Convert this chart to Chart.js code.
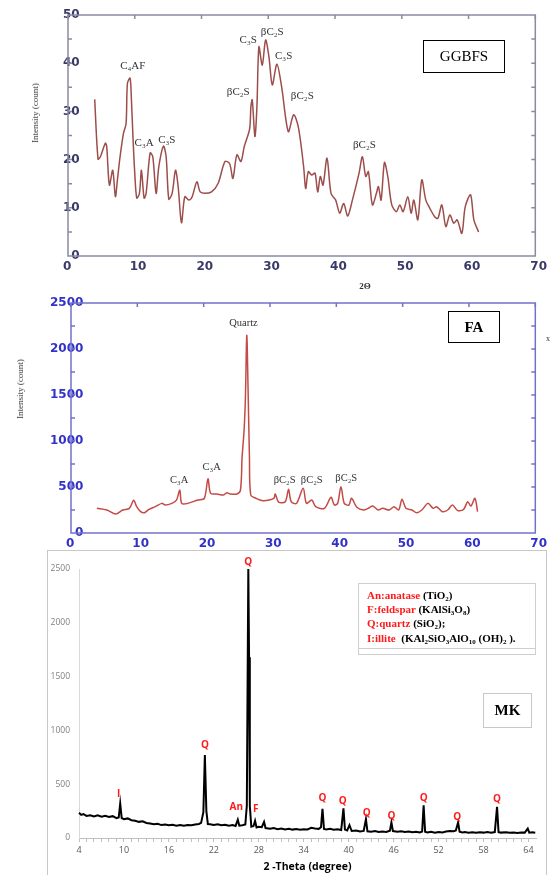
<!DOCTYPE html>
<html lang="en">
<head>
<meta charset="UTF-8" />
<title>XRD patterns: GGBFS, FA, MK</title>
<script src="https://cdn.jsdelivr.net/npm/chart.js@4.4.1/dist/chart.umd.min.js"></script>
<style>
*,*::before,*::after{box-sizing:border-box}
html,body{margin:0;padding:0;background:#fff}
body{width:556px;height:875px;position:relative;overflow:hidden;font-family:"Liberation Serif",serif}
.pane{position:absolute}
.pane canvas{width:100%!important;height:100%!important;display:block}
.tag{position:absolute;border:1px solid #000;display:flex;align-items:center;justify-content:center;color:#000}
.ytitle{position:absolute;transform:translate(-50%,-50%) rotate(-90deg);white-space:nowrap;font-size:9px;color:#333}
.mkframe{position:absolute;left:47px;top:550px;width:500px;height:340px;border:1px solid #c8c8c8}
.legend{position:absolute;left:358px;top:583px;width:178px;height:72px;border:1.5px solid #cfcfcf;
  font:bold 11px "Liberation Serif",serif;line-height:14.2px;padding:4px 0 0 8px;color:#000;white-space:nowrap}
.legend .r{color:#ff1a1a}
.legend sub{font-size:7px;vertical-align:-2px;line-height:0}
.legend .rule{position:absolute;left:0;right:0;top:64px;border-top:1.5px solid #cfcfcf}
</style>
</head>
<body>

<!-- GGBFS -->
<div class="pane" style="left:0;top:0;width:556px;height:300px"><canvas id="ggbfs"></canvas></div>
<div class="ytitle" style="left:35px;top:113px">Intensity (count)</div>
<div class="tag" style="left:423px;top:40px;width:82px;height:33px;font-size:15px">GGBFS</div>

<!-- FA -->
<div class="pane" style="left:0;top:295px;width:556px;height:260px"><canvas id="fa"></canvas></div>
<div class="ytitle" style="left:20px;top:389px">Intensity (count)</div>
<div class="tag" style="left:448px;top:311px;width:52px;height:32px;font-size:15px;font-weight:bold">FA</div>
<div style="position:absolute;left:546px;top:334px;font-size:8px;color:#333">x</div>

<!-- MK -->
<div class="mkframe"></div>
<div class="pane" style="left:48px;top:551px;width:498px;height:324px"><canvas id="mk"></canvas></div>
<div class="legend">
  <div><span class="r">An:anatase</span> (TiO<sub>2</sub>)</div>
  <div><span class="r">F:feldspar</span> (KAlSi<sub>3</sub>O<sub>8</sub>)</div>
  <div><span class="r">Q:quartz</span> (SiO<sub>2</sub>);</div>
  <div><span class="r">I:illite</span>&nbsp; (KAl<sub>2</sub>SiO<sub>3</sub>AlO<sub>10</sub> (OH)<sub>2</sub> ).</div>
  <div class="rule"></div>
</div>
<div class="tag" style="left:483px;top:693px;width:49px;height:35px;font-size:15px;font-weight:bold;border-color:#c8c8c8">MK</div>

<script>
/* ── data ───────────────────────────────────────────────────────── */
const ggbfsTheta=[4.0,4.5,4.85,5.6,5.8,6.2,6.7,7.1,7.4,7.8,8.3,8.7,8.9,9.3,9.5,9.75,10.0,10.3,10.7,11.0,11.4,11.7,12.3,12.7,13.2,13.6,14.3,14.7,15.1,15.6,16.1,16.5,17.0,17.5,18.1,18.6,19.3,19.8,20.5,21.5,22.5,23.5,24.2,24.7,25.3,25.9,26.4,27.2,27.4,27.6,28.0,28.3,28.6,29.1,29.6,30.1,30.6,31.3,32.0,33.0,33.8,34.5,35.3,35.6,36.0,36.5,37.0,37.4,37.8,38.2,38.8,39.4,40.1,40.7,41.3,41.9,42.6,43.6,44.1,44.6,45.0,45.6,46.2,46.5,46.9,47.4,47.9,48.5,49.2,49.7,50.2,50.9,51.4,51.8,52.4,53.0,53.6,54.2,54.9,55.4,56.0,56.6,57.2,57.8,58.3,59.0,59.5,60.3,60.8,61.5];
const ggbfsCount=[32.5,20.1,20.6,23.4,22.7,14.7,17.8,12.3,15.8,20.6,25.4,27.5,35.8,36.9,32.4,24.1,17.2,12.0,13.0,17.8,12.0,13.0,21.4,20.6,13.0,18.5,22.8,20.6,11.8,13.0,17.8,14.4,6.9,12.3,11.6,12.3,15.4,13.3,13.0,13.3,15.1,19.6,19.2,16.1,21.0,19.6,22.7,26.3,31.0,32.4,24.8,31.0,43.4,39.6,44.8,41.3,35.5,39.8,35.1,25.8,29.3,26.8,18.5,14.0,17.5,16.8,17.2,13.3,16.5,14.7,20.3,13.0,11.6,8.9,10.9,8.3,11.6,17.2,20.6,16.5,17.5,10.6,13.0,14.4,11.6,19.4,16.5,10.6,9.2,10.6,9.2,12.3,8.9,11.6,7.5,15.8,11.6,9.9,8.2,7.8,10.6,6.1,8.5,6.8,7.5,4.7,10.2,12.7,7.5,5.0];
const ggbfsPeakNames=['C₄AF','C₃A','C₃S','βC₂S','C₃S','βC₂S','C₃S','βC₂S','βC₂S'];
const ggbfsPeakTheta=[9.7,11.4,14.8,25.5,27.0,30.6,32.3,35.1,44.4];
const ggbfsPeakY=[39.4,23.5,24.1,34.1,44.7,46.5,41.5,33.2,23.0];

const faTheta=[3.9,5.4,6.75,7.8,8.8,9.45,9.9,10.5,11.1,11.75,12.7,13.7,14.2,15.2,15.9,16.4,16.7,17.6,19.1,20.1,20.65,21.05,22.0,23.0,23.5,24.0,25.0,25.55,25.8,26.1,26.3,26.5,26.7,26.9,27.1,27.9,28.9,29.9,30.6,30.8,31.3,32.3,32.8,33.2,34.0,35.0,35.5,36.3,36.9,38.2,39.2,39.7,40.2,40.7,41.2,41.9,42.3,43.1,44.1,44.8,45.5,46.3,47.0,48.0,48.7,49.4,49.9,50.5,51.4,52.1,52.9,53.8,54.6,55.1,56.0,56.8,57.5,58.3,59.2,59.8,60.3,60.9,61.3];
const faCount=[268,250,206,250,268,355,286,232,221,257,286,322,304,322,358,465,322,322,358,377,590,431,424,413,438,424,424,467,830,1120,1480,2150,1554,830,413,377,351,358,377,424,335,340,475,340,322,486,322,358,286,268,388,304,322,503,322,304,377,279,250,268,293,250,268,250,286,250,366,268,250,221,250,322,268,286,232,250,304,243,257,340,293,377,232];
const faPeakNames=['Quartz','C₃A','C₃A','βC₂S','βC₂S','βC₂S'];
const faPeakTheta=[26.0,16.3,21.2,32.2,36.3,41.5];
const faPeakY=[2283,576,717,576,576,598];

const mkTheta=[4.0,4.3,4.6,5.0,5.5,6.0,6.5,7.0,7.5,8.0,8.5,9.0,9.3,9.5,9.7,10.0,10.5,11.0,11.5,12.0,12.5,13.0,13.5,14.0,14.5,15.0,15.5,16.0,16.5,17.0,17.5,18.0,18.5,19.0,19.5,20.0,20.3,20.6,20.8,21.0,21.2,21.5,22.0,22.5,23.0,23.5,24.0,24.5,24.9,25.2,25.4,25.8,26.2,26.4,26.6,26.7,26.8,27.0,27.3,27.5,27.7,28.0,28.4,28.7,28.9,29.5,30.0,30.5,31.0,31.5,32.0,32.5,33.0,33.5,34.0,34.5,35.0,35.5,36.0,36.3,36.5,36.7,37.0,37.5,38.0,38.5,39.0,39.3,39.5,39.8,40.1,40.4,41.0,41.5,42.0,42.3,42.5,43.0,43.5,44.0,44.5,45.0,45.5,45.7,45.9,46.5,47.0,47.5,48.0,48.5,49.0,49.5,49.8,50.0,50.2,50.5,51.0,51.5,52.0,52.5,53.0,53.5,54.0,54.3,54.6,54.8,55.2,55.5,56.0,56.5,57.0,57.5,58.0,58.5,59.0,59.5,59.8,60.0,60.3,61.0,61.5,62.0,62.5,63.0,63.5,63.9,64.1,64.5,64.9];
const mkCount=[235,215,222,205,212,200,210,198,206,195,203,185,190,320,185,175,182,165,160,150,155,140,135,128,132,120,126,118,122,115,121,113,120,118,125,130,140,240,770,250,130,128,122,128,118,124,115,120,112,170,115,118,125,300,2500,1680,300,105,112,160,98,105,100,150,92,85,92,82,88,80,86,78,84,76,82,80,95,88,85,100,270,85,80,85,76,82,75,275,78,70,120,65,70,60,66,175,62,58,64,55,60,56,68,145,65,58,62,55,60,54,58,52,60,305,58,52,57,50,56,52,60,65,62,70,145,58,52,55,50,54,48,53,50,55,48,55,290,55,50,53,48,52,47,52,50,88,50,53,48];
const mkPeakNames=['I','Q','An','Q','F','Q','Q','Q','Q','Q','Q','Q'];
const mkPeakTheta=[9.3,20.8,25.0,26.6,27.6,36.5,39.2,42.4,45.7,50.0,54.5,59.8];
const mkPeakY=[404,863,283,2563,267,367,344,233,205,367,195,357];

const topXTicks=[0,10,20,30,40,50,60,70];
const ggbfsYTicks=[0,10,20,30,40,50];
const ggbfsYMinor=[5,10,15,20,25,30,35,40,45];
const faYTicks=[0,500,1000,1500,2000,2500];
const faYMinor=[250,500,750,1000,1250,1500,1750,2000,2250];
const mkXLabels=[4,10,16,22,28,34,40,46,52,58,64];
const mkYTicks=[0,500,1000,1500,2000,2500];

/* ── decoration: frame, inner ticks, peak names ─────────────────── */
const xrdDecor={
  id:'xrdDecor',
  afterDraw(chart,args,o){
    const {ctx,chartArea:a,scales:{x,y}}=chart;
    ctx.save();
    if(o.frame){
      ctx.strokeStyle=o.frame;ctx.lineWidth=1.5;
      ctx.strokeRect(a.left,a.top,a.right-a.left,a.bottom-a.top);
      ctx.beginPath();
      (o.yMinor||[]).forEach(v=>{const p=y.getPixelForValue(v);
        ctx.moveTo(a.left,p);ctx.lineTo(a.left+4,p);ctx.moveTo(a.right,p);ctx.lineTo(a.right-4,p);});
      (o.xMinor||[]).forEach(v=>{const p=x.getPixelForValue(v);ctx.moveTo(p,a.top);ctx.lineTo(p,a.top+4);});
      ctx.stroke();
    }
    ctx.font=o.font;ctx.fillStyle=o.color;ctx.textAlign='center';ctx.textBaseline='middle';
    (o.names||[]).forEach((t,i)=>ctx.fillText(t,x.getPixelForValue(o.xs[i]),y.getPixelForValue(o.ys[i])));
    if(o.xTitle){
      ctx.font=o.xTitle.font;ctx.fillStyle=o.xTitle.color;
      ctx.fillText(o.xTitle.text,x.getPixelForValue(o.xTitle.x),a.bottom+o.xTitle.dy);
    }
    ctx.restore();
  }
};
Chart.register(xrdDecor);

const pts=(xs,ys)=>xs.map((v,i)=>({x:v,y:ys[i]}));
const setTicks=vals=>s=>{s.ticks=vals.map(v=>({value:v}));};
const wide=c=>({font:{family:'DejaVu Sans',weight:'bold',size:12},color:c,callback:v=>String(v)});

function topChart(id,o){
  return new Chart(document.getElementById(id),{
    type:'line',
    data:{datasets:[{data:o.data,borderColor:o.line,borderWidth:1.5,pointRadius:0,tension:.3,fill:false}]},
    options:{
      responsive:true,maintainAspectRatio:false,animation:false,
      layout:{padding:o.pad},
      plugins:{legend:{display:false},tooltip:{enabled:false},
        xrdDecor:{frame:o.frame,yMinor:o.yMinor,xMinor:topXTicks,names:o.names,xs:o.xs,ys:o.ys,
          font:o.font,color:'#333',xTitle:o.xTitle}},
      scales:{
        x:{type:'linear',min:0,max:70,afterBuildTicks:setTicks(topXTicks),
           grid:{display:false,drawTicks:false},border:{display:false},
           ticks:{...wide(o.tick),align:'start',labelOffset:-5,padding:4,maxRotation:0,autoSkip:false},
           afterFit:s=>{s.height=o.xh;}},
        y:{min:0,max:o.ymax,afterBuildTicks:setTicks(o.yTicks),
           grid:{display:false,drawTicks:false},border:{display:false},
           // mirrored so the labels may straddle the axis line, right edges aligned
           ticks:{...wide(o.tick),mirror:true,crossAlign:'far',padding:o.ypad,autoSkip:false},
           afterFit:s=>{s.width=o.yw;}}
      }
    }
  });
}

topChart('ggbfs',{data:pts(ggbfsTheta,ggbfsCount),line:'#9c4e4b',frame:'#8a8aa2',tick:'#3a3a68',
  pad:{top:15,right:14,left:0,bottom:0},xh:44,yw:68,ypad:-5,ymax:50,yTicks:ggbfsYTicks,yMinor:ggbfsYMinor,
  names:ggbfsPeakNames,xs:ggbfsPeakTheta,ys:ggbfsPeakY,font:'11px "Liberation Serif", serif',
  xTitle:{text:'2Θ',x:44.5,dy:31,font:'bold 9px "Liberation Serif", serif',color:'#333'}});

topChart('fa',{data:pts(faTheta,faCount),line:'#c44a45',frame:'#7272cc',tick:'#3232c8',
  pad:{top:8,right:9,left:0,bottom:0},xh:22,yw:71,ypad:-21,ymax:2500,yTicks:faYTicks,yMinor:faYMinor,
  names:faPeakNames,xs:faPeakTheta,ys:faPeakY,font:'10.5px "Liberation Serif", serif'});

new Chart(document.getElementById('mk'),{
  type:'line',
  data:{datasets:[{data:pts(mkTheta,mkCount),borderColor:'#000',borderWidth:2,pointRadius:0,tension:0,fill:false,clip:false}]},
  options:{
    responsive:true,maintainAspectRatio:false,animation:false,
    layout:{padding:{top:18,right:10,left:0,bottom:0}},
    plugins:{legend:{display:false},tooltip:{enabled:false},
      xrdDecor:{names:mkPeakNames,xs:mkPeakTheta,ys:mkPeakY,font:'bold 10px "Open Sans", sans-serif',color:'#ff1a1a'}},
    scales:{
      x:{type:'linear',min:4,max:65,
         afterBuildTicks:s=>{const t=[];for(let v=4;v<=64;v++)t.push({value:v});s.ticks=t;},
         grid:{display:true,drawOnChartArea:false,drawTicks:true,tickLength:4,color:'#bfbfbf'},
         border:{display:true,color:'#bfbfbf'},
         ticks:{font:{family:'Open Sans',size:9},color:'#595959',padding:3,maxRotation:0,autoSkip:false,
                callback:v=>mkXLabels.includes(v)?String(v):''},
         title:{display:true,text:'2 -Theta (degree)',font:{family:'Open Sans',weight:'bold',size:10.5},color:'#000',padding:{top:0,bottom:2}},
         afterFit:s=>{s.height=37;}},
      y:{min:0,max:2500,afterBuildTicks:setTicks(mkYTicks),
         grid:{display:false,drawTicks:false},border:{display:true,color:'#d9d9d9'},
         ticks:{font:{family:'Open Sans',size:8.5},color:'#7f7f7f',padding:9,callback:v=>String(v)},
         afterFit:s=>{s.width=31;}}
    }
  }
});
</script>
</body>
</html>
